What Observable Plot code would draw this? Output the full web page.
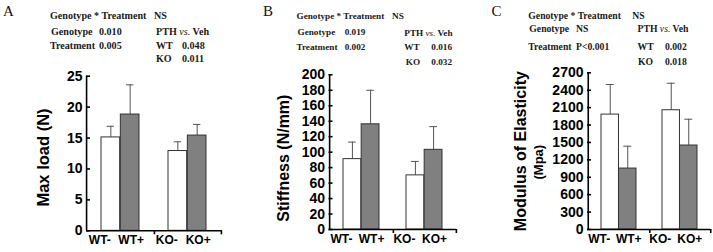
<!DOCTYPE html>
<html>
<head>
<meta charset="utf-8">
<script src="https://cdn.jsdelivr.net/npm/d3@7"></script>
<script src="https://cdn.jsdelivr.net/npm/@observablehq/plot@0.6"></script>
<style>
  html, body { margin: 0; padding: 0; background: #fff; }
  #root { position: relative; width: 713px; height: 252px; overflow: hidden; background: #fff; }
  .panel { position: absolute; top: 0; }
  .ann { position: absolute; font-family: "Liberation Serif", "Times New Roman", serif; font-weight: bold; color: #1a1a1a; white-space: nowrap; line-height: 12px; }
  .ann i { font-weight: normal; }
  .letter { position: absolute; font: 15px "Liberation Serif", "Times New Roman", serif; color: #111; line-height: 15px; }
</style>
</head>
<body>
<div id="root"></div>
<script>
// ---- data ----
const genotypes = ["WT", "KO"];
const treatments = ["-", "+"];

const maxLoad   = [15.1, 18.8, 12.9, 15.4];
const maxLoadSD = [1.8, 4.8, 1.5, 1.8];

const stiffness   = [91, 136, 70, 103];
const stiffnessSD = [22, 44, 18, 30];

const modulus   = [1980, 1050, 2055, 1447];
const modulusSD = [518, 385, 465, 453];

const ticksA = [0, 5, 10, 15, 20, 25];
const ticksB = [0, 20, 40, 60, 80, 100, 120, 140, 160, 180, 200];
const ticksC = [0, 300, 600, 900, 1200, 1500, 1800, 2100, 2400, 2700];

const titleA = ["Max load (N)"];
const titleB = ["Stiffness (N/mm)"];
const titleC = ["Modulus of Elasticity"];
const unitC  = ["(Mpa)"];

const statsA = ["NS", "0.010", "0.005", "0.048", "0.011"];
const statsB = ["NS", "0.019", "0.002", "0.016", "0.032"];
const statsC = ["NS", "NS", "P<0.001", "0.002", "0.018"];

// ---- drawing ----
const root = document.getElementById("root");

function drawPanel(cfg) {
  const {left, width, mt, mb, ml, mr, values, sds, ticks, title, titleDx, titleDy, titleSize, unit} = cfg;
  const height = 252;
  const fw = width - ml - mr;
  const bw = fw * 0.285;       // band (group) width
  const off = bw / 4;          // bar centre offset from group centre
  const rows = [];
  genotypes.forEach((g, gi) => treatments.forEach((t, ti) => {
    const i = gi * 2 + ti;
    rows.push({g, t, label: g + t, v: values[i], top: values[i] + sds[i]});
  }));
  const minus = rows.filter(d => d.t === "-");
  const plus = rows.filter(d => d.t === "+");
  const errStroke = "#555";
  const axisW = 1.6;

  const marks = [
    Plot.ruleX(minus, {x: "g", y1: "v", y2: "top", dx: -off, stroke: errStroke}),
    Plot.ruleX(plus, {x: "g", y1: "v", y2: "top", dx: off, stroke: errStroke}),
    Plot.tickY(minus, {x: "g", y: "top", insetLeft: off - 4, insetRight: 3 * off - 4, stroke: errStroke}),
    Plot.tickY(plus, {x: "g", y: "top", insetLeft: 3 * off - 4, insetRight: off - 4, stroke: errStroke}),
    Plot.barY(minus, {x: "g", y: "v", insetRight: bw / 2, fill: "white", stroke: "#333"}),
    Plot.barY(plus, {x: "g", y: "v", insetLeft: bw / 2, fill: "#808080", stroke: "#333"}),
    Plot.ruleY(ticks, {insetRight: fw - 4, stroke: "black", strokeWidth: axisW}),
    Plot.ruleY([0], {stroke: "black", strokeWidth: axisW}),
    Plot.ruleX(genotypes.slice(0, 1), {dx: -fw / 4, stroke: "black", strokeWidth: axisW}),
    Plot.ruleX(genotypes, {y1: 0, y2: 0, insetBottom: -4, dx: fw / 4, stroke: "black", strokeWidth: axisW}),
    Plot.axisY(ticks, {tickSize: 0, tickPadding: 4, fontSize: 14, fontWeight: "bold", label: null, tickFormat: d => String(d)}),
    Plot.text(minus, {x: "g", text: "label", frameAnchor: "bottom", dy: 13, dx: -off - 11, fontSize: 12, fontWeight: "bold"}),
    Plot.text(plus, {x: "g", text: "label", frameAnchor: "bottom", dy: 13, dx: off + 1, fontSize: 12, fontWeight: "bold"}),
    Plot.text(title, {frameAnchor: "left", rotate: -90, dx: titleDx, dy: titleDy, fontSize: titleSize, fontWeight: "bold", lineAnchor: "middle", textAnchor: "middle"})
  ];
  if (unit) {
    marks.push(Plot.text(unit.text, {frameAnchor: "left", rotate: -90, dx: unit.dx, dy: unit.dy, fontSize: unit.size, fontWeight: "bold", lineAnchor: "middle", textAnchor: "middle"}));
  }

  const svg = Plot.plot({
    width, height,
    marginTop: mt, marginBottom: mb, marginLeft: ml, marginRight: mr,
    style: {fontFamily: "'Liberation Sans', Arial, sans-serif", background: "transparent", color: "black", overflow: "visible"},
    x: {type: "band", domain: genotypes, paddingInner: 0.43, paddingOuter: 0.215, axis: null},
    y: {domain: [0, ticks[ticks.length - 1]], axis: null},
    marks
  });
  const div = document.createElement("div");
  div.className = "panel";
  div.style.left = left + "px";
  div.appendChild(svg);
  root.appendChild(div);
}

function addText(html, x, yc, size) {
  const s = document.createElement("span");
  s.className = "ann";
  s.innerHTML = html;
  s.style.left = x + "px";
  s.style.top = (yc - 6) + "px";
  s.style.fontSize = size + "px";
  root.appendChild(s);
}

function annotate(stats, L) {
  const f = L.size;
  addText("Genotype * Treatment", L.gx, L.r1, f);
  addText(stats[0], L.nsx, L.r1, f);
  addText("Genotype", L.gx + 1, L.r2, f);
  addText(stats[1], L.vx, L.r2, f);
  addText("PTH <i>vs.</i> Veh", L.px, L.r2p, f);
  addText("Treatment", L.gx, L.r3, f);
  addText(stats[2], L.vx, L.r3, f);
  addText("WT", L.px, L.r3, f);
  addText(stats[3], L.pvx, L.r3, f);
  addText("KO", L.px + L.kodx, L.r4, f);
  addText(stats[4], L.pvx, L.r4, f);
}

function letter(ch, x) {
  const s = document.createElement("span");
  s.className = "letter";
  s.textContent = ch;
  s.style.left = x + "px";
  s.style.top = "4px";
  root.appendChild(s);
}

drawPanel({left: 0, width: 237, mt: 75.7, mb: 21.7, ml: 86, mr: 15.3,
  values: maxLoad, sds: maxLoadSD, ticks: ticksA, title: titleA, titleDx: -43, titleDy: 4, titleSize: 16.5});
drawPanel({left: 240, width: 237, mt: 74.3, mb: 23, ml: 88.5, mr: 21,
  values: stiffness, sds: stiffnessSD, ticks: ticksB, title: titleB, titleDx: -45.5, titleDy: 6, titleSize: 16});
drawPanel({left: 477, width: 236, mt: 72.3, mb: 23, ml: 110, mr: 3,
  values: modulus, sds: modulusSD, ticks: ticksC, title: titleC, titleDx: -67, titleDy: 0, titleSize: 16,
  unit: {text: unitC, dx: -48.7, dy: 11, size: 13}});

letter("A", 3);
letter("B", 263);
letter("C", 491.5);

annotate(statsA, {size: 10.1, gx: 50, nsx: 154, vx: 99, px: 156, pvx: 182, kodx: 0, r1: 15.7, r2: 31.7, r2p: 31.7, r3: 45.7, r4: 59.3});
annotate(statsB, {size: 9.2, gx: 296.5, nsx: 392, vx: 344.7, px: 404.3, pvx: 431.3, kodx: 1.5, r1: 15.7, r2: 32.3, r2p: 33.3, r3: 46.7, r4: 61.7});
annotate(statsC, {size: 9.7, gx: 528.3, nsx: 632.3, vx: 576, px: 637.5, pvx: 665, kodx: 0.5, r1: 15.7, r2: 29.3, r2p: 29.3, r3: 46.7, r4: 61.7});
</script>
</body>
</html>
